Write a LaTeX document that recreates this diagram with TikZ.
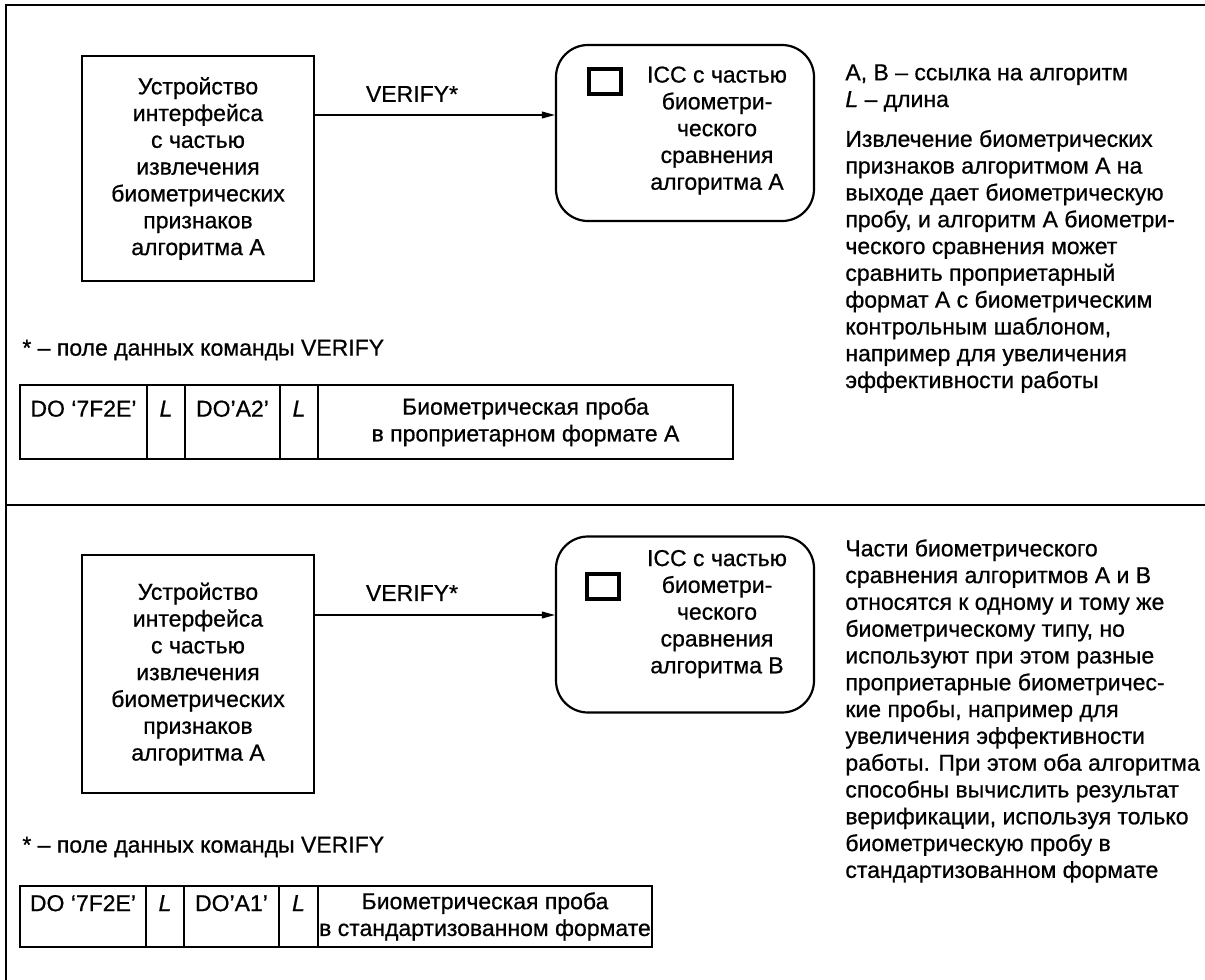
\documentclass[tikz,border=0pt]{standalone}
\usepackage{fontspec}
\setmainfont{Liberation Sans}[FakeBold=0.7]
\usetikzlibrary{positioning, arrows.meta, calc}

\begin{document}
\begin{tikzpicture}[x=0.5pt, y=-0.5pt,
  every node/.style={font=\fontsize{11.5}{13.4}\selectfont},
  devbox/.style={rectangle, draw=black, line width=0.75pt,
                 minimum width=116pt, minimum height=112.5pt,
                 align=center, inner sep=0pt},
  iccbox/.style={rectangle, draw=black, line width=1.1pt, rounded corners=16pt,
                 minimum width=129pt, minimum height=88pt, inner sep=0pt},
  chip/.style={rectangle, draw=black, line width=2pt,
               minimum width=16pt, minimum height=12.5pt, inner sep=0pt},
  txt/.style={align=center, inner sep=0pt},
  note/.style={align=left, anchor=north west, inner sep=0pt},
  cell/.style={rectangle, draw=black, line width=0.8pt, outer sep=0pt,
               anchor=north west, align=center, inner sep=1pt},
  frm/.style={line width=1pt},
  arr/.style={-{Triangle[length=6.5pt, width=3.4pt]}, line width=0.6pt}
]
\useasboundingbox (0,0) rectangle (1205,980);

% Frame
\draw[frm] (1205,5) -- (6,5) -- (6,980);
\draw[frm] (6,505) -- (1205,505);

% ---------- upper case: algorithm A / A ----------
\node[devbox] (dev1) at (198,168.5)
    {Устройство\\интерфейса\\с частью\\извлечения\\биометрических\\признаков\\алгоритма А};
\node[iccbox] (icc1) at (685,133) {};
\node[chip] (chip1) at (605,81.5) {};
\node[txt] (icct1) at (717,130.5)
    {ICC с частью\\биометри-\\ческого\\сравнения\\алгоритма А};
\node[txt] (verify1) at (412,94) {VERIFY*};

\node[note, anchor=west] (foot1) at (22,350) {* – поле данных команды VERIFY};

% data field
\node[cell, minimum width=63.5pt, minimum height=37pt] (c1a) at (20,385) {DO ‘7F2E’\\\mbox{}};
\node[cell, minimum width=19pt, minimum height=37pt] (c1b) at (c1a.north east) {\textit{L}\\\mbox{}};
\node[cell, minimum width=47.5pt, minimum height=37pt] (c1c) at (c1b.north east) {DO’A2’\\\mbox{}};
\node[cell, minimum width=19pt, minimum height=37pt] (c1d) at (c1c.north east) {\textit{L}\\\mbox{}};
\node[cell, minimum width=207.5pt, minimum height=37pt] (c1e) at (c1d.north east)
    {Биометрическая проба\\в проприетарном формате А};

\node[note] (legend1) at (845,64)
    {A, B – ссылка на алгоритм\\\textit{L} – длина\\[6.5pt]
     Извлечение биометрических\\признаков алгоритмом А на\\выходе дает биометрическую\\
     пробу, и алгоритм А биометри-\\ческого сравнения может\\сравнить проприетарный\\
     формат А с биометрическим\\контрольным шаблоном,\\например для увеличения\\
     эффективности работы};

\draw[arr] ([yshift=26.75pt]dev1.east) coordinate (a1) -- (a1 -| icc1.west);

% ---------- lower case: algorithm A / B ----------
\node[devbox, minimum height=119pt] (dev2) at (198,674)
    {Устройство\\интерфейса\\с частью\\извлечения\\биометрических\\признаков\\алгоритма А};
\node[iccbox] (icc2) at (685,624.5) {};
\node[chip] (chip2) at (603,586) {};
\node[txt] (icct2) at (717,614)
    {ICC с частью\\биометри-\\ческого\\сравнения\\алгоритма В};
\node[txt] (verify2) at (412,593) {VERIFY*};

\node[note, anchor=west] (foot2) at (22,847) {* – поле данных команды VERIFY};

% data field
\node[cell, minimum width=63pt, minimum height=30.5pt] (c2a) at (20,886) {DO ‘7F2E’\\\mbox{}};
\node[cell, minimum width=19pt, minimum height=30.5pt] (c2b) at (c2a.north east) {\textit{L}\\\mbox{}};
\node[cell, minimum width=47.5pt, minimum height=30.5pt] (c2c) at (c2b.north east) {DO’A1’\\\mbox{}};
\node[cell, minimum width=19.5pt, minimum height=30.5pt] (c2d) at (c2c.north east) {\textit{L}\\\mbox{}};
\node[cell, minimum width=167pt, minimum height=30.5pt, inner sep=0pt] (c2e) at (c2d.north east)
    {Биометрическая проба\\в стандартизованном формате};

\node[note] (legend2) at (845,539)
    {Части биометрического\\сравнения алгоритмов А и В\\относятся к одному и тому же\\
     биометрическому типу, но\\используют при этом разные\\проприетарные биометричес-\\
     кие пробы, например для\\увеличения эффективности\\работы. При этом оба алгоритма\\
     способны вычислить результат\\верификации, используя только\\биометрическую пробу в\\
     стандартизованном формате};

\draw[arr] ([yshift=29.5pt]dev2.east) coordinate (a2) -- (a2 -| icc2.west);

\end{tikzpicture}
\end{document}
